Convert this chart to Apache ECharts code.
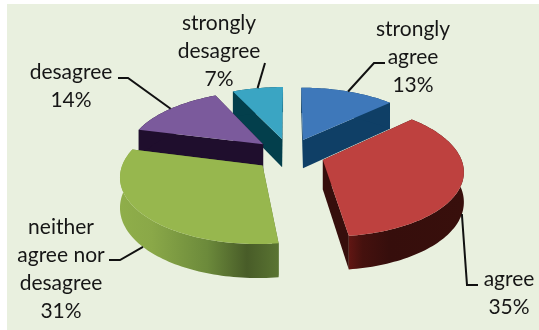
<!DOCTYPE html>
<html><head><meta charset="utf-8">
<style>html,body{margin:0;padding:0;background:#fff}#c{width:539px;height:330px}</style>
<script src="https://cdn.jsdelivr.net/npm/echarts@6/dist/echarts.min.js"></script>
</head><body><div id="c"></div>
<script>
var categories = ['strongly\nagree', 'agree', 'neither\nagree nor\ndesagree', 'desagree', 'strongly\ndesagree'];
var values = [13, 35, 31, 14, 7];
var topColors = ['#3E78BA', '#BE413F', '#97B74E', '#7B5A9C', '#3AA5C3'];
var wallColors = ['#0F3F66', '#360E0C', '#5A7432', '#1F0E2D', '#033F4C'];
var drawOrder = [4, 3, 0, 2, 1];

// layout of the projected pie
var P = { vx: 289.5, vy: 154.5, R: 137, explode: 35, tilt: 0.465, k: 0.00105, depth: 33 };
// label centres and leader elbows
var labelAt = [[413, 57], [509, 293], [61, 269], [71, 86], [219, 51]];
var elbows = [[[374, 63], [385, 63]], [[467, 285], [478, 285]], [[120, 260], [109, 260]], [[128, 78], [118, 78]], [[265, 63]]];

var total = values.reduce(function (a, b) { return a + b; }, 0);
function proj(X, Y, drop) {
  var s = 1 / (1 + P.k * Y);
  var y = P.vy - Y * P.tilt * s;
  if (drop) y += 4 + (P.depth - 4) * s / 1.16;
  return [P.vx + X * s, y];
}
function polar(a, r, cx, cy) { return [cx + Math.sin(a) * r, cy + Math.cos(a) * r]; }

function sliceInfo(i) {
  var before = 0;
  for (var j = 0; j < i; j++) before += values[j];
  var a0 = before / total * 2 * Math.PI, a1 = (before + values[i]) / total * 2 * Math.PI;
  var mid = (a0 + a1) / 2;
  return { a0: a0, a1: a1, mid: mid, cx: Math.sin(mid) * P.explode, cy: Math.cos(mid) * P.explode };
}

function renderItem(params, api) {
  var i = api.value(0);
  var s = sliceInfo(i), kids = [];
  var n = Math.max(8, Math.round((s.a1 - s.a0) * 40)), arc = [];
  for (var t = 0; t <= n; t++) arc.push(polar(s.a0 + (s.a1 - s.a0) * t / n, P.R, s.cx, s.cy));
  var c = [s.cx, s.cy];
  function pr(p, d) { return proj(p[0], p[1], d); }
  // side walls, back to front
  var walls = [
    [c, arc[0]],
    [c, arc[n]]
  ].map(function (w) {
    return { pts: [pr(w[0]), pr(w[1]), pr(w[1], 1), pr(w[0], 1)], y: (w[0][1] + w[1][1]) / 2, fill: wallColors[i] };
  });
  walls.sort(function (a, b) { return b.y - a.y; });
  var outer = arc.map(function (p) { return pr(p); }).concat(arc.slice().reverse().map(function (p) { return pr(p, 1); }));
  var outerFill = wallColors[i];
  if (i === 2) outerFill = new echarts.graphic.LinearGradient(0, 0, 1, 0, [
    { offset: 0, color: '#8FAE4A' }, { offset: 0.2, color: '#8AA848' }, { offset: 0.55, color: '#6C8A3B' },
    { offset: 0.8, color: '#485C28' }, { offset: 1, color: '#5A7432' }]);
  if (i === 1) outerFill = new echarts.graphic.LinearGradient(0, 0, 1, 0, [
    { offset: 0, color: '#611613' }, { offset: 0.12, color: '#45110E' }, { offset: 0.35, color: '#360E0C' }, { offset: 1, color: '#380F0C' }]);
  walls.forEach(function (w) { kids.push({ type: 'polygon', shape: { points: w.pts }, style: { fill: w.fill } }); });
  kids.push({ type: 'polygon', shape: { points: outer }, style: { fill: outerFill } });
  kids.push({ type: 'polygon', shape: { points: [pr(c)].concat(arc.map(function (p) { return pr(p); })) }, style: { fill: topColors[i] } });
  return { type: 'group', children: kids };
}

function renderLabel(params, api) {
  var i = api.value(0);
  var s = sliceInfo(i);
  var ax = Math.sin(s.mid) * P.R + s.cx, ay = Math.cos(s.mid) * P.R + s.cy;
  var anchor = proj(ax, ay, ay < 0);
  return { type: 'group', children: [
    { type: 'polyline', shape: { points: [anchor].concat(elbows[i]) }, style: { stroke: '#111', lineWidth: 2, fill: null } },
    { type: 'text', style: { text: categories[i] + '\n' + values[i] + '%', x: labelAt[i][0], y: labelAt[i][1],
      align: 'center', verticalAlign: 'middle', fontFamily: 'Lato', fontSize: 21, lineHeight: 28, fill: '#161616' } }
  ] };
}

var chart = echarts.init(document.getElementById('c'), null, { renderer: 'canvas' });
chart.setOption({
  animation: false,
  backgroundColor: '#fff',
  graphic: [{ type: 'rect', z: -10, shape: { x: 7, y: 4, width: 532, height: 326 }, style: { fill: '#E9F0DF' } }],
  series: [
    { type: 'custom', coordinateSystem: 'none', renderItem: renderItem, silent: true, z: 2,
      encode: { value: 0 }, data: drawOrder.map(function (i) { return [i]; }) },
    { type: 'custom', coordinateSystem: 'none', renderItem: renderLabel, silent: true, z: 3,
      encode: { value: 0 }, data: values.map(function (v, i) { return [i]; }) }
  ]
});
</script></body></html>
